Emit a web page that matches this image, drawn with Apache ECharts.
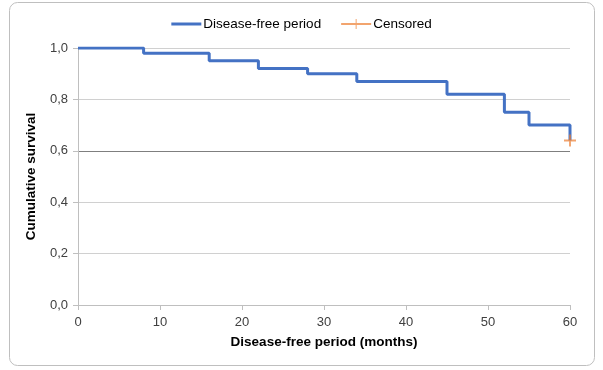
<!DOCTYPE html>
<html>
<head>
<meta charset="utf-8">
<script src="https://cdn.jsdelivr.net/npm/echarts@6/dist/echarts.min.js"></script>
<style>html,body{margin:0;padding:0;background:#fff}#c{width:603px;height:370px}</style>
</head>
<body>
<div id="c"></div>
<script>
// Data
const months = [0, 8, 16, 22, 28, 34, 45, 52, 55, 60];
const survival = [1.0, 0.98, 0.95, 0.92, 0.90, 0.87, 0.82, 0.75, 0.70, 0.64];
const censoredMonths = [60];
const censoredSurvival = [0.64];
const xTicks = [0, 10, 20, 30, 40, 50, 60];
const yTicks = [0.0, 0.2, 0.4, 0.6, 0.8, 1.0];

const chart = echarts.init(document.getElementById('c'), null, {renderer: 'canvas'});
const font = 'Liberation Sans, Arial, sans-serif';
const plusPath = 'path://M4.2,0 L5.8,0 L5.8,4.2 L10,4.2 L10,5.8 L5.8,5.8 L5.8,10 L4.2,10 L4.2,5.8 L0,5.8 L0,4.2 L4.2,4.2 Z';
const legendBlue = 'path://M0,3.5 L30,3.5 L30,6.5 L0,6.5 Z';
const legendCensored = 'path://M0,4 L30,4 L30,6 L0,6 Z M14.5,0 L15.5,0 L15.5,10 L14.5,10 Z';

chart.setOption({
  animation: false,
  textStyle: {fontFamily: font},
  graphic: [{
    type: 'rect',
    shape: {x: 9.5, y: 2.5, width: 585, height: 363, r: 8},
    style: {fill: 'none', stroke: '#bfbfbf', lineWidth: 1},
    silent: true, z: -1
  }],
  legend: {
    top: 12,
    left: 'center',
    itemGap: 20,
    textStyle: {fontFamily: font, fontSize: 13.5, color: '#000', padding: [0, 0, 0, -3]},
    data: [
      {name: 'Disease-free period', icon: legendBlue, itemStyle: {color: '#4472C4'}},
      {name: 'Censored', icon: legendCensored, itemStyle: {color: '#ED7D31'}}
    ],
    itemWidth: 30,
    itemHeight: 10
  },
  grid: {left: 78, right: 33, top: 48, bottom: 65},
  xAxis: {
    type: 'value',
    min: 0, max: 60, interval: 10,
    name: 'Disease-free period (months)',
    nameLocation: 'middle',
    nameGap: 30,
    nameTextStyle: {fontFamily: font, fontSize: 13.5, fontWeight: 'bold', color: '#000'},
    axisLine: {show: true, lineStyle: {color: '#bfbfbf', width: 1}},
    axisTick: {show: true, length: 5, lineStyle: {color: '#bfbfbf'}},
    axisLabel: {fontFamily: font, fontSize: 13, color: '#404040', margin: 11,
      formatter: v => xTicks.includes(v) ? String(v) : ''},
    splitLine: {show: false}
  },
  yAxis: {
    type: 'value',
    min: 0, max: 1, interval: 0.2,
    name: 'Cumulative survival',
    nameLocation: 'middle',
    nameGap: 40,
    nameTextStyle: {fontFamily: font, fontSize: 13.5, fontWeight: 'bold', color: '#000'},
    axisLine: {show: true, lineStyle: {color: '#bfbfbf', width: 1}},
    axisTick: {show: true, length: 5, lineStyle: {color: '#bfbfbf'}},
    axisLabel: {fontFamily: font, fontSize: 13, color: '#404040', margin: 10,
      formatter: v => {
        const t = yTicks.find(y => Math.abs(y - v) < 1e-6);
        return t === undefined ? '' : t.toFixed(1).replace('.', ',');
      }},
    splitLine: {show: true, lineStyle: {color: ['#bfbfbf', '#d0d0d0', '#d0d0d0', '#7f7f7f', '#d0d0d0', '#d0d0d0'], width: 1}}
  },
  series: [
    {
      name: 'Disease-free period',
      type: 'line',
      step: 'end',
      data: months.map((m, i) => [m, survival[i]]),
      showSymbol: false,
      symbol: 'none',
      lineStyle: {color: '#4472C4', width: 3},
      itemStyle: {color: '#4472C4'},
      z: 3
    },
    {
      name: 'Censored',
      type: 'scatter',
      data: censoredMonths.map((m, i) => [m, censoredSurvival[i]]),
      symbol: plusPath,
      symbolSize: 12,
      itemStyle: {color: '#ED7D31', opacity: 0.7},
      z: 4
    }
  ]
});
</script>
</body>
</html>
